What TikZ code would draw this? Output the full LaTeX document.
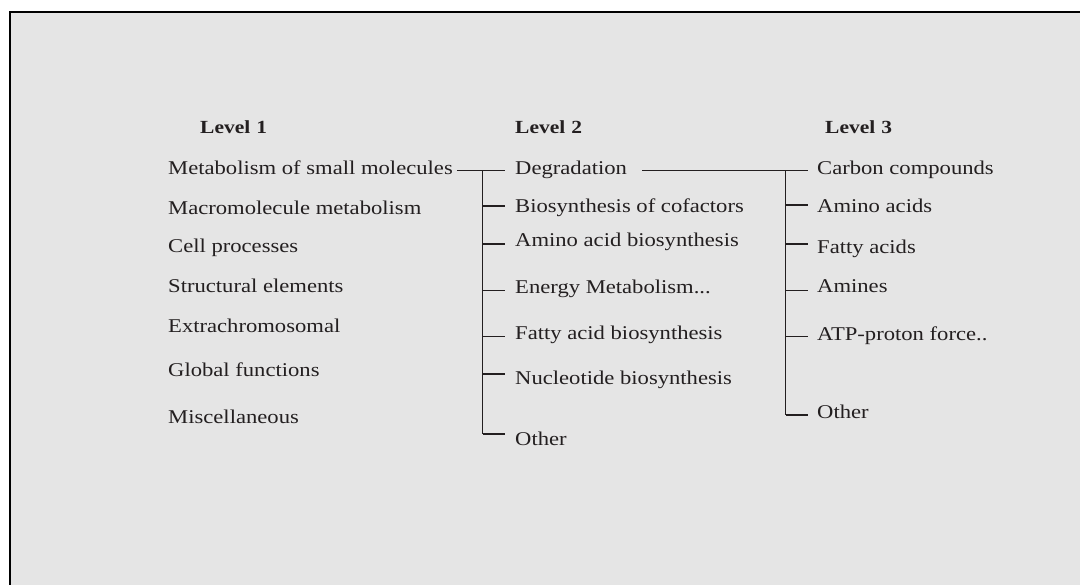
\documentclass[tikz,border=0pt]{standalone}
\usepackage{fontspec}
\setmainfont[FakeStretch=1.16]{Liberation Serif}
\usetikzlibrary{calc}
\definecolor{bggray}{HTML}{E5E5E5}
\definecolor{ink}{HTML}{231F20}
\tikzset{
  item/.style={anchor=base west, inner sep=0pt, text=ink, font=\fontsize{19.5}{22}\selectfont},
  head/.style={anchor=base west, inner sep=0pt, text=ink, font=\fontsize{18.5}{20}\selectfont\bfseries},
  link/.style={draw=ink, line width=1.3pt},
  frame/.style={draw=black, line width=1.6pt}
}
\begin{document}
\begin{tikzpicture}[x=1pt,y=-1pt]
\useasboundingbox (0,0) rectangle (1080,585);
\fill[bggray] (10,12) rectangle (1080,585);
\draw[frame] (1080,12) -- (10,12) -- (10,585);

% headers
\node[head] (h1) at (200,134) {Level\,\,1};
\node[head] (h2) at (515,134) {Level\,\,2};
\node[head] (h3) at (825,134) {Level\,\,3};

% level 1
\node[item] (m1) at (168,175) {Metabolism of small molecules};
\node[item] (m2) at (168,215) {Macromolecule metabolism};
\node[item] (m3) at (168,253) {Cell processes};
\node[item] (m4) at (168,293) {Structural elements};
\node[item] (m5) at (168,333) {Extrachromosomal};
\node[item] (m6) at (168,377) {Global functions};
\node[item] (m7) at (168,424) {Miscellaneous};

% level 2
\node[item] (d1) at (515,175) {Degradation};
\node[item] (d2) at (515,213) {Biosynthesis of cofactors};
\node[item] (d3) at (515,247) {Amino acid biosynthesis};
\node[item] (d4) at (515,294) {Energy Metabolism...};
\node[item] (d5) at (515,340) {Fatty acid biosynthesis};
\node[item] (d6) at (515,385) {Nucleotide biosynthesis};
\node[item] (d7) at (515,446) {Other};

% level 3
\node[item] (c1) at (817,175) {Carbon compounds};
\node[item] (c2) at (817,213) {Amino acids};
\node[item] (c3) at (817,254) {Fatty acids};
\node[item] (c4) at (817,293) {Amines};
\node[item] (c5) at (817,341) {ATP-proton force..};
\node[item] (c6) at (817,419) {Other};

% junctions of the level-2 bracket
\coordinate (a1) at (482.7,170.7);
\coordinate (a2) at (482.7,206);
\coordinate (a3) at (482.7,244);
\coordinate (a4) at (482.7,290.7);
\coordinate (a5) at (482.7,336.7);
\coordinate (a6) at (482.7,374);
\coordinate (a7) at (482.7,434);

% junctions of the level-3 bracket
\coordinate (b1) at (785.7,170.7);
\coordinate (b2) at (785.7,205);
\coordinate (b3) at (785.7,244);
\coordinate (b4) at (785.7,290.7);
\coordinate (b5) at (785.7,336.7);
\coordinate (b6) at (785.7,415);

% level 1 -> level 2
\draw[link] ($(a1 -| m1.east)+(4,0)$) -- ($(a1 -| d1.west)+(-10,0)$);
\draw[link] (a1) -- (a7);
\foreach \i in {2,...,7}{
  \draw[link] (a\i) -- ($(a\i -| d\i.west)+(-10,0)$);
}

% level 2 -> level 3
\draw[link] ($(b1 -| d1.east)+(15,0)$) -- ($(b1 -| c1.west)+(-9.3,0)$);
\draw[link] (b1) -- (b6);
\foreach \i in {2,...,6}{
  \draw[link] (b\i) -- ($(b\i -| c\i.west)+(-9.3,0)$);
}
\end{tikzpicture}
\end{document}
